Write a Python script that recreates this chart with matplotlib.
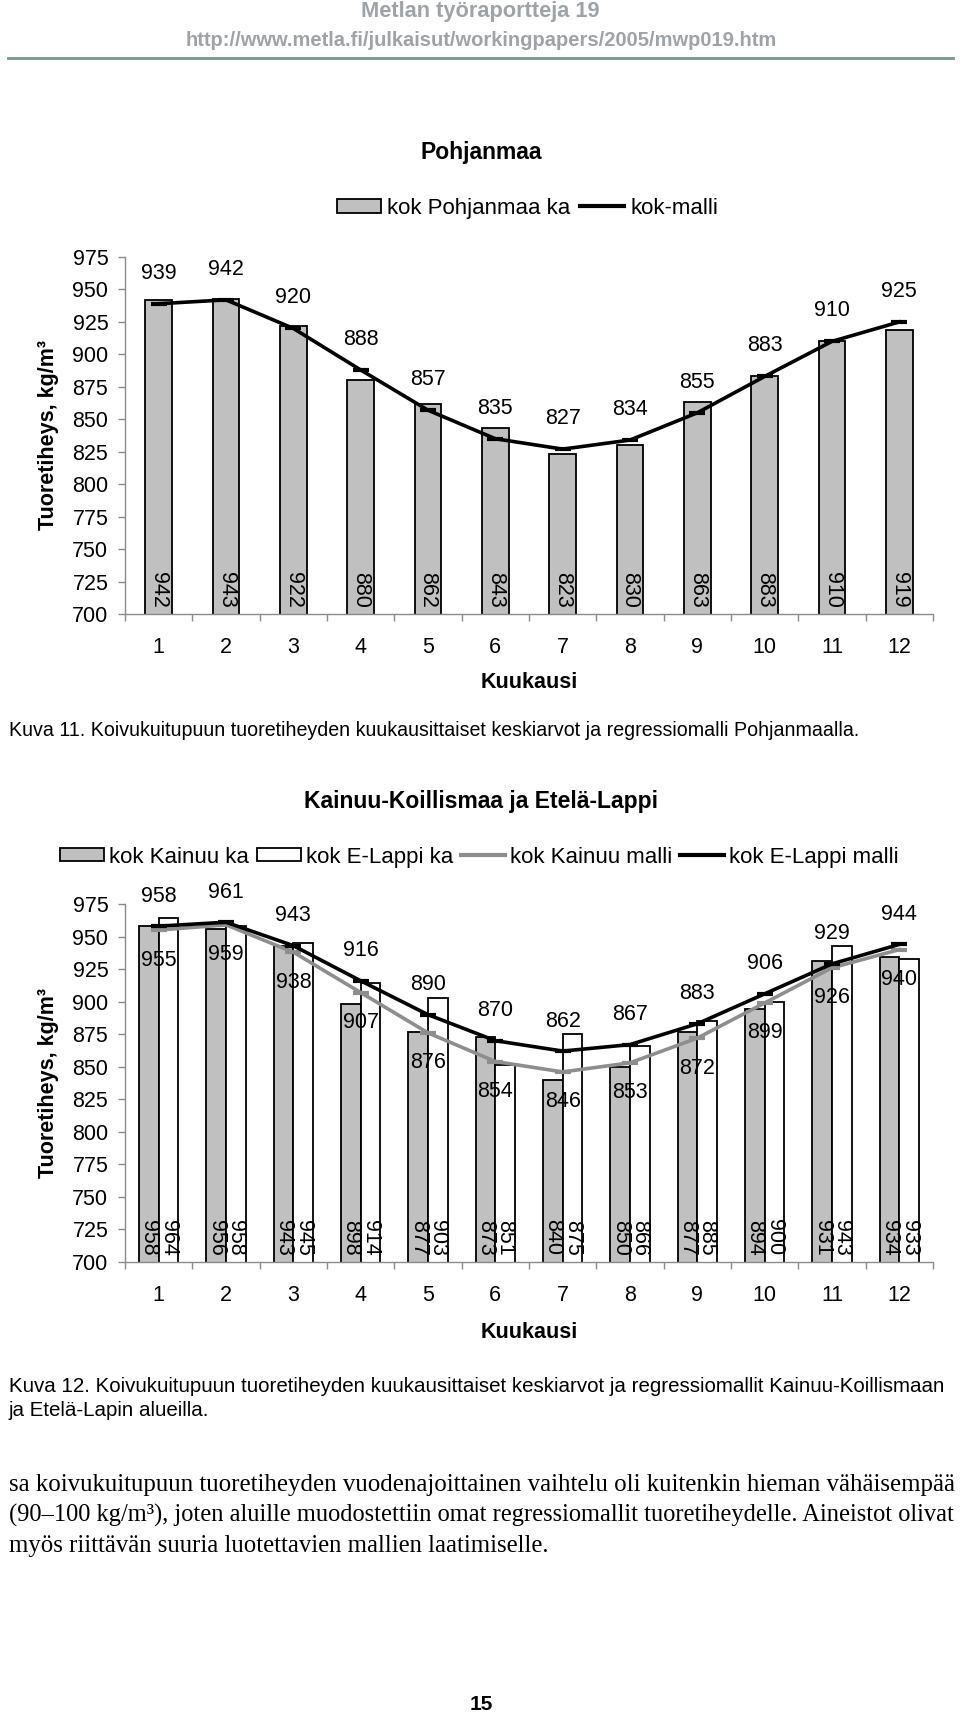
import matplotlib
matplotlib.use("Agg")
import matplotlib.pyplot as plt
from matplotlib.patches import Rectangle
from matplotlib.lines import Line2D

# data
months = [1, 2, 3, 4, 5, 6, 7, 8, 9, 10, 11, 12]

pohj_ka = [942, 943, 922, 880, 862, 843, 823, 830, 863, 883, 910, 919]
pohj_malli = [939, 942, 920, 888, 857, 835, 827, 834, 855, 883, 910, 925]

kainuu_ka = [958, 956, 943, 898, 877, 873, 840, 850, 877, 894, 931, 934]
lappi_ka = [964, 958, 945, 914, 903, 851, 875, 866, 885, 900, 943, 933]
kainuu_malli = [955, 959, 938, 907, 876, 854, 846, 853, 872, 899, 926, 940]
lappi_malli = [958, 961, 943, 916, 890, 870, 862, 867, 883, 906, 929, 944]

yticks = list(range(700, 976, 25))

W, H = 960, 1714
FS = 15.5
LEG_FS = 16
SANS = ["Liberation Sans", "DejaVu Sans"]
NARROW = ["Liberation Sans Narrow", "Liberation Sans", "DejaVu Sans"]
SERIF = ["Liberation Serif", "DejaVu Serif"]
AXGRAY = "#8a8a8a"
BARGRAY = "#c0c0c0"
LINEGRAY = "#8e8e8e"

plt.rcParams["font.family"] = SANS

fig = plt.figure(figsize=(W / 100, H / 100), dpi=100)
renderer = fig.canvas.get_renderer()


def fy(y):
    return 1 - y / H


def fit_text(x, y, s, width, **kw):
    t = fig.text(x / W, fy(y), s, va="center", **kw)
    w = t.get_window_extent(renderer).width
    t.set_fontsize(t.get_fontsize() * width / w)
    return t


def draw_legend(items, x0, y, text_pad, item_gap, hw=44, hh=13):
    # items: (kind, colour, label); laid out left to right in pixels
    x = x0
    for kind, col, label in items:
        if kind == "bar":
            fig.add_artist(Rectangle((x / W, fy(y + hh / 2)), hw / W, hh / H,
                                     transform=fig.transFigure, facecolor=col,
                                     edgecolor="black", lw=1.3))
        else:
            fig.add_artist(Line2D([x / W, (x + hw) / W], [fy(y), fy(y)], color=col, lw=3))
        x += hw + text_pad
        t = fig.text(x / W, fy(y + 8), label, va="baseline", ha="left", fontsize=LEG_FS)
        x += t.get_window_extent(renderer).width + item_gap


def style_axes(ax):
    ax.set_xlim(0.5, 12.5)
    ax.set_ylim(700, 975)
    ax.set_yticks(yticks)
    ax.set_xticks(months)
    ax.set_xticks([m + 0.5 for m in [0] + months], minor=True)
    for s in ["top", "right"]:
        ax.spines[s].set_visible(False)
    for s in ["left", "bottom"]:
        ax.spines[s].set_color(AXGRAY)
        ax.spines[s].set_linewidth(1)
    ax.tick_params(axis="y", direction="out", length=5, width=1, color=AXGRAY,
                   pad=7, labelsize=FS)
    ax.tick_params(axis="x", which="major", length=0, pad=16.5, labelsize=FS)
    ax.tick_params(axis="x", which="minor", direction="out", length=5, width=1,
                   color=AXGRAY)
    ax.set_facecolor("none")


# ---------------- header ----------------
fit_text(361, 11, "Metlan työraportteja 19", 239, family=NARROW,
         fontweight="bold", color="#9ea3a8", fontsize=14)
fit_text(186, 40, "http://www.metla.fi/julkaisut/workingpapers/2005/mwp019.htm", 592,
         family=NARROW, fontweight="bold", color="#9ea3a8", fontsize=14)
fig.add_artist(Line2D([8 / W, 953 / W], [fy(58), fy(58)], color="#6b9b8b", lw=2))

# ---------------- chart 1: Pohjanmaa ----------------
ax1 = fig.add_axes([125 / W, fy(614), 808 / W, 357 / H])
ax1.bar(months, pohj_ka, width=0.4, color=BARGRAY, edgecolor="black", lw=1.3, zorder=2)
ax1.plot(months, pohj_malli, color="black", lw=2.6, marker="_", ms=11, mew=3, zorder=3)
for m, v in zip(months, pohj_ka):
    ax1.text(m, 705, str(v), rotation=-90, ha="center", va="bottom", fontsize=FS, zorder=4)
for m, v in zip(months, pohj_malli):
    ax1.annotate(str(v), (m, v), xytext=(0, 22), textcoords="offset points",
                 ha="center", va="center", fontsize=FS, zorder=4)
style_axes(ax1)

fig.text(481 / W, fy(153), "Pohjanmaa", ha="center", va="center", fontsize=16.5,
         fontweight="bold")
draw_legend([("bar", BARGRAY, "kok Pohjanmaa ka"), ("line", "black", "kok-malli")],
            337, 206, text_pad=6, item_gap=10)
fig.text(49 / W, fy(435), "Tuoretiheys, kg/m³", rotation=90, ha="center", va="center",
         fontsize=FS, fontweight="bold")
fig.text(529 / W, fy(683), "Kuukausi", ha="center", va="center", fontsize=FS,
         fontweight="bold")

fit_text(9, 731, "Kuva 11. Koivukuitupuun tuoretiheyden kuukausittaiset keskiarvot ja "
         "regressiomalli Pohjanmaalla.", 856, family=NARROW, fontsize=14)

# ---------------- chart 2: Kainuu-Koillismaa ja Etelä-Lappi ----------------
ax2 = fig.add_axes([125 / W, fy(1262), 808 / W, 358 / H])
xk = [m - 0.145 for m in months]
xl = [m + 0.145 for m in months]
ax2.bar(xk, kainuu_ka, width=0.29, color=BARGRAY, edgecolor="black", lw=1.3, zorder=2)
ax2.bar(xl, lappi_ka, width=0.29, color="white", edgecolor="black", lw=1.3, zorder=2)
ax2.plot(months, kainuu_malli, color=LINEGRAY, lw=2.6, marker="_", ms=11, mew=3, zorder=3)
ax2.plot(months, lappi_malli, color="black", lw=2.6, marker="_", ms=11, mew=3, zorder=3)
for x, v in zip(xk, kainuu_ka):
    ax2.text(x, 705, str(v), rotation=-90, ha="center", va="bottom", fontsize=FS, zorder=4)
for x, v in zip(xl, lappi_ka):
    ax2.text(x, 705, str(v), rotation=-90, ha="center", va="bottom", fontsize=FS, zorder=4)
for m, v in zip(months, lappi_malli):
    ax2.annotate(str(v), (m, v), xytext=(0, 21.6), textcoords="offset points",
                 ha="center", va="center", fontsize=FS, zorder=4)
for m, v in zip(months, kainuu_malli):
    ax2.annotate(str(v), (m, v), xytext=(0, -21.6), textcoords="offset points",
                 ha="center", va="center", fontsize=FS, zorder=4)
style_axes(ax2)

fig.text(481 / W, fy(801), "Kainuu-Koillismaa ja Etelä-Lappi", ha="center", va="center",
         fontsize=16.5, fontweight="bold")
draw_legend([("bar", BARGRAY, "kok Kainuu ka"), ("bar", "white", "kok E-Lappi ka"),
             ("line", LINEGRAY, "kok Kainuu malli"), ("line", "black", "kok E-Lappi malli")],
            60, 855, text_pad=5, item_gap=8)
fig.text(49 / W, fy(1083), "Tuoretiheys, kg/m³", rotation=90, ha="center", va="center",
         fontsize=FS, fontweight="bold")
fig.text(529 / W, fy(1332), "Kuukausi", ha="center", va="center", fontsize=FS,
         fontweight="bold")

cap = fit_text(9, 1386, "Kuva 12. Koivukuitupuun tuoretiheyden kuukausittaiset keskiarvot ja "
               "regressiomallit Kainuu-Koillismaan", 946, family=NARROW, fontsize=14)
fig.text(9 / W, fy(1411), "ja Etelä-Lapin alueilla.", va="center", family=NARROW,
         fontsize=cap.get_fontsize())

# ---------------- body text ----------------
b1 = fit_text(9, 1485, "sa koivukuitupuun tuoretiheyden vuodenajoittainen vaihtelu oli "
              "kuitenkin hieman vähäisempää", 946, family=SERIF, fontsize=16)
b2 = fit_text(9, 1515, "(90–100 kg/m³), joten aluille muodostettiin omat regressiomallit "
              "tuoretiheydelle. Aineistot olivat", 946, family=SERIF, fontsize=16)
fig.text(9 / W, fy(1546), "myös riittävän suuria luotettavien mallien laatimiselle.",
         va="center", family=SERIF, fontsize=(b1.get_fontsize() + b2.get_fontsize()) / 2)

fig.text(481 / W, fy(1704), "15", ha="center", va="center", fontsize=15, fontweight="bold")

fig.savefig("out.png", dpi=100)
